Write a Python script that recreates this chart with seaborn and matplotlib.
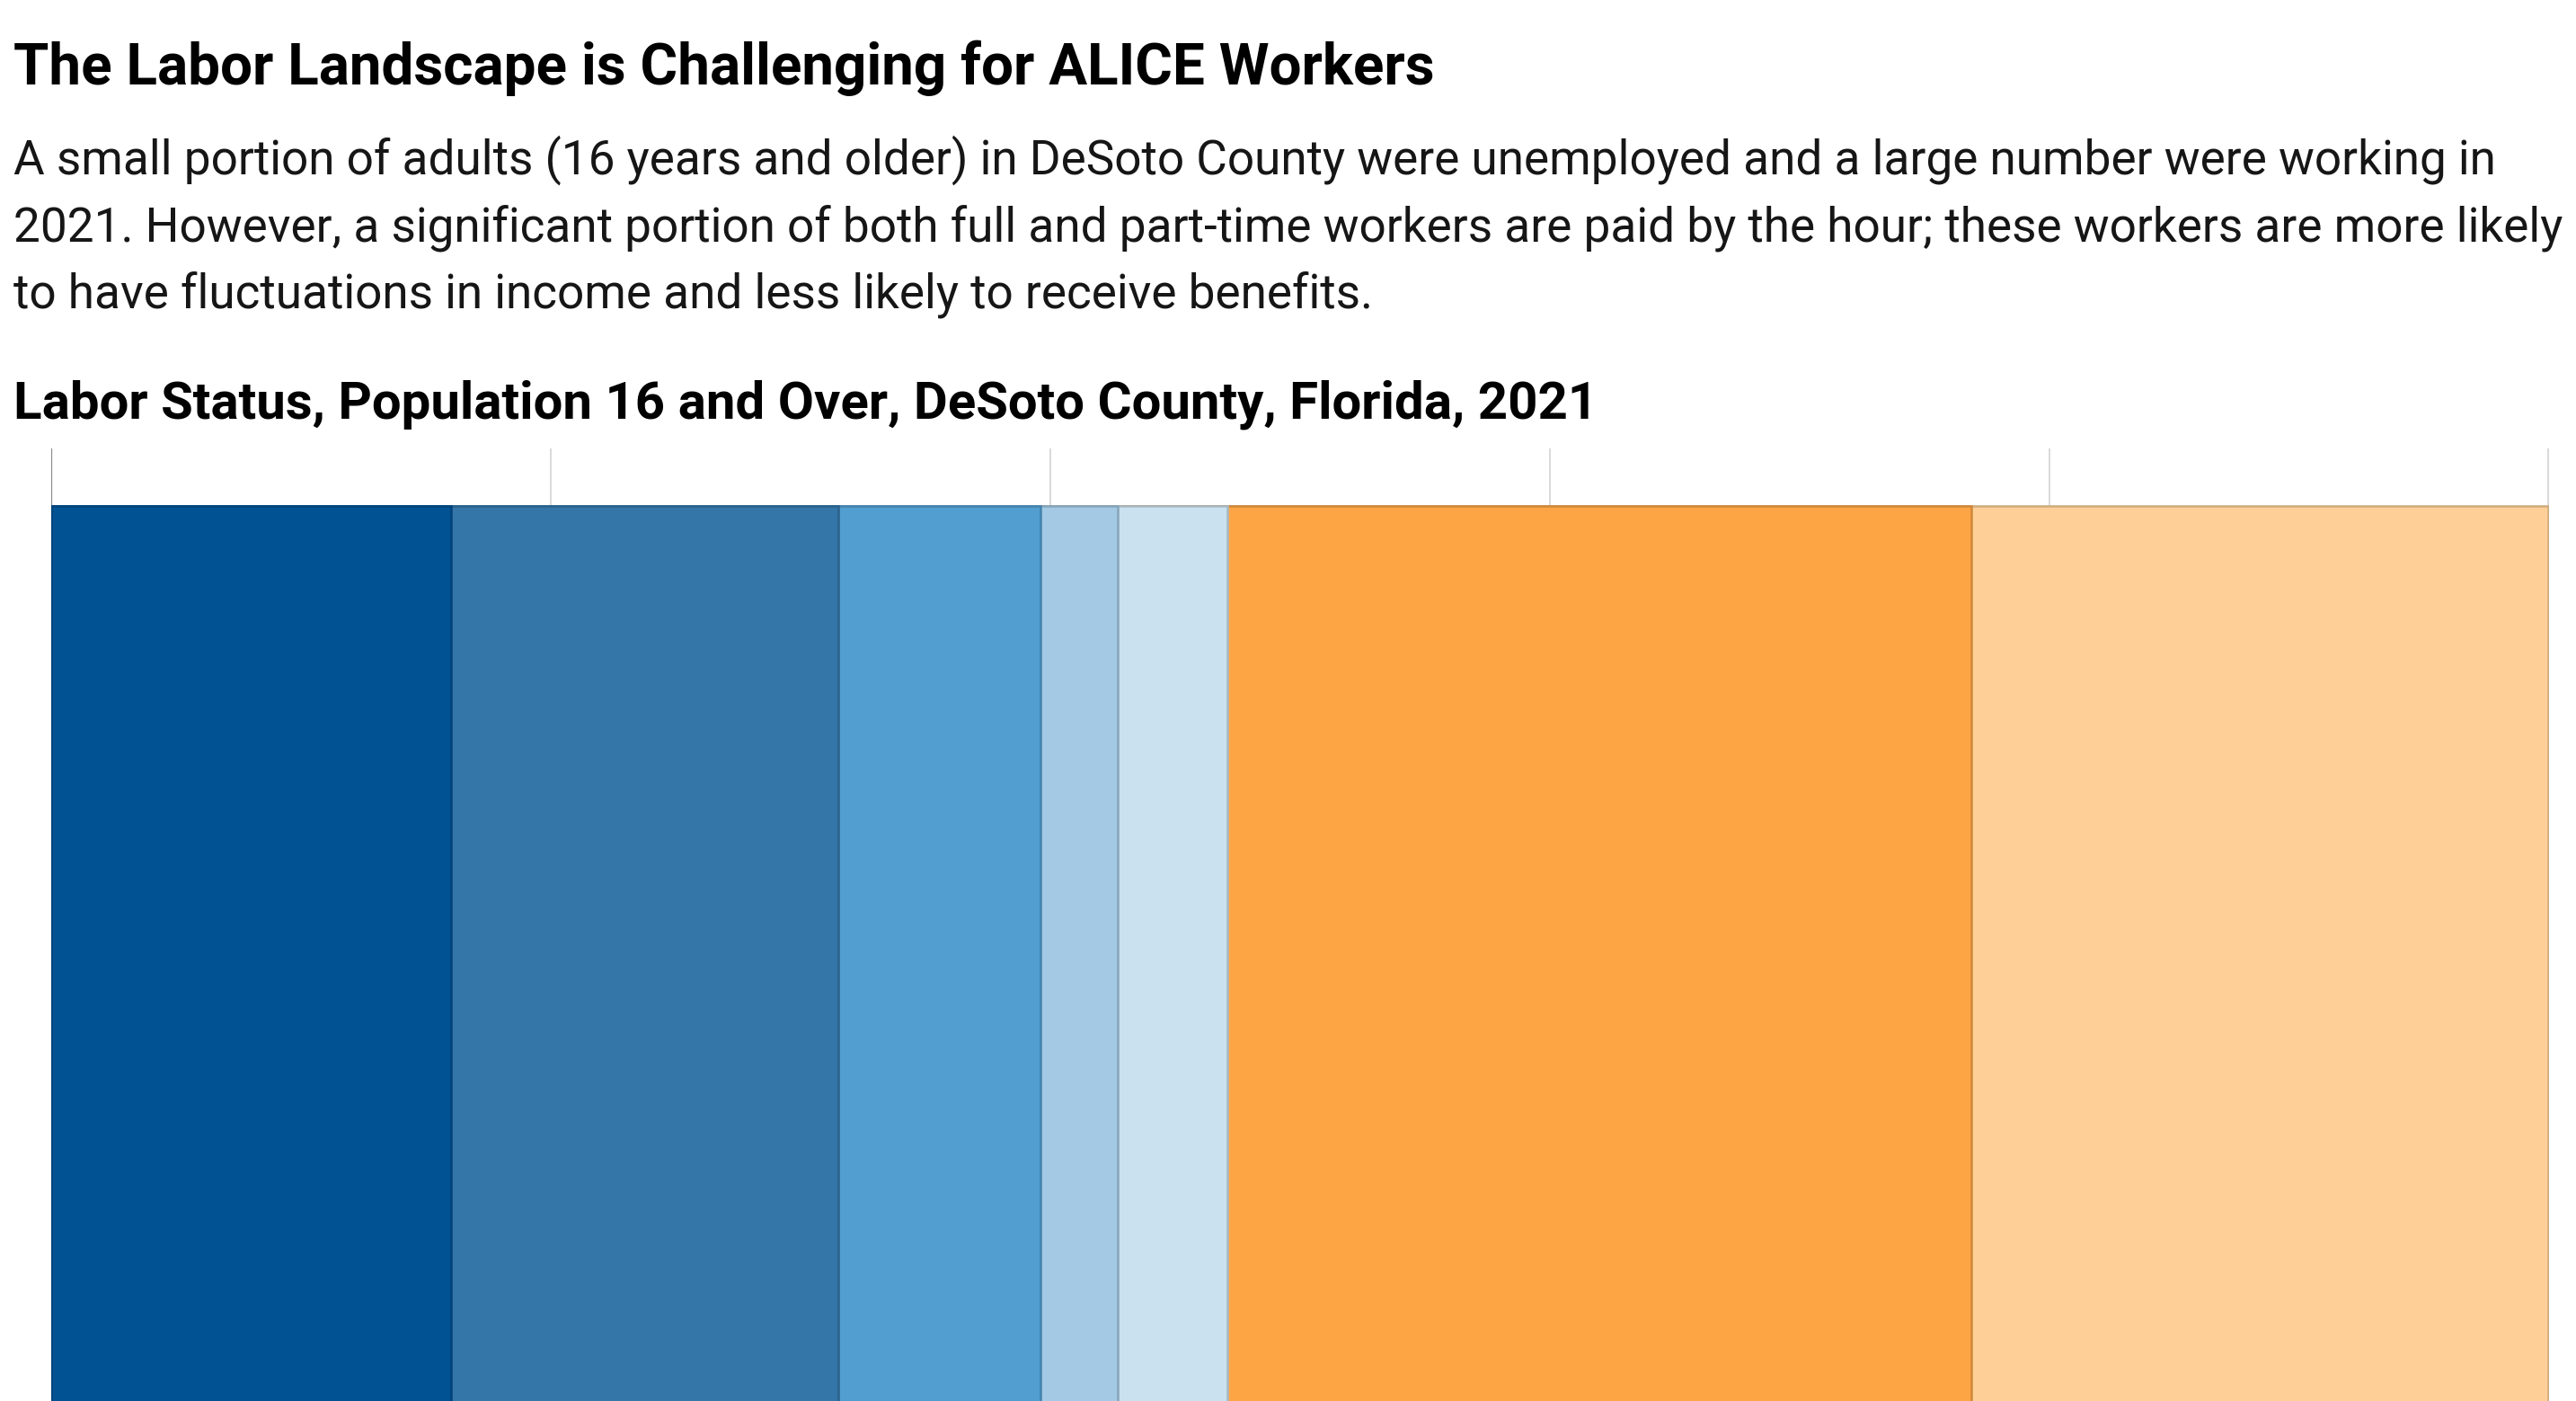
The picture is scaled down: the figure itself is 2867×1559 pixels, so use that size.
import matplotlib
matplotlib.use("Agg")
import matplotlib.pyplot as plt
import matplotlib.colors as mcolors
import numpy as np
import pandas as pd
import seaborn as sns

# Labor status shares (%), population 16 and over, DeSoto County, 2021
categories = [
    "Full-Time, Salaried",
    "Full-Time, Hourly",
    "Part-Time, Hourly",
    "Part-Time, Salaried",
    "Unemployed",
    "Not in Labor Force, 65+",
    "Not in Labor Force, Under 65",
]
shares = [16.0, 15.5, 8.1, 3.1, 4.4, 29.8, 23.1]
colors = ["#005293", "#3576a8", "#529ed1", "#a3c9e4", "#cae1f0", "#fda545", "#fed098"]
ticks = [0, 20, 40, 60, 80, 100]

title = "The Labor Landscape is Challenging for ALICE Workers"
description = [
    "A small portion of adults (16 years and older) in DeSoto County were unemployed and a large number were working in",
    "2021. However, a significant portion of both full and part-time workers are paid by the hour; these workers are more likely",
    "to have fluctuations in income and less likely to receive benefits.",
]
chart_title = "Labor Status, Population 16 and Over, DeSoto County, Florida, 2021"

df = pd.DataFrame({"category": categories, "share": shares, "color": colors})
df["cum"] = df["share"].cumsum()
df["row"] = "2021"

sns.set_style("white")
plt.rcParams["font.family"] = ["Roboto", "DejaVu Sans"]

W, H = 2867, 1559
DPI = 200
fig = plt.figure(figsize=(W / DPI, H / DPI), dpi=DPI)

# axes spans from the top of the gridlines to the bottom edge of the picture
ax = fig.add_axes([57 / W, 0, (2837 - 57) / W, 1 - 499 / H])


def darker(c, f=0.82):
    r, g, b = mcolors.to_rgb(c)
    return (r * f, g * f, b * f)


# stacked bar: draw cumulative totals from the largest down
for _, r in df.iloc[::-1].iterrows():
    sns.barplot(x=[r["cum"]], y=[r["row"]], orient="h", color=r["color"],
                saturation=1, width=2, edgecolor=darker(r["color"]),
                linewidth=0.9, ax=ax, zorder=2)

ax.set_xlim(0, 100.02)
ax.set_ylim(-0.5, 1.0964)
ax.set_xticks(ticks)
ax.grid(axis="x", color="#d9d9d9", linewidth=0.7)
ax.grid(axis="y", visible=False)
ax.set_axisbelow(True)
ax.axvline(0, color="#8c8c8c", linewidth=0.8, zorder=1)
ax.tick_params(length=0, labelbottom=False, labelleft=False)
ax.set_xlabel("")
ax.set_ylabel("")
for s in ax.spines.values():
    s.set_visible(False)


def px_text(x, y, s, **kw):
    fig.text(x / W, 1 - y / H, s, va="baseline", ha="left", **kw)


px_text(15, 94, title, fontsize=22.95, fontweight="bold", color="#000000")
for i, line in enumerate(description):
    px_text(15, 194 + i * 74, line, fontsize=19.12, color="#161616")
px_text(15, 465, chart_title, fontsize=20.95, fontweight="bold", color="#000000")

fig.savefig("out.png", dpi=DPI)
